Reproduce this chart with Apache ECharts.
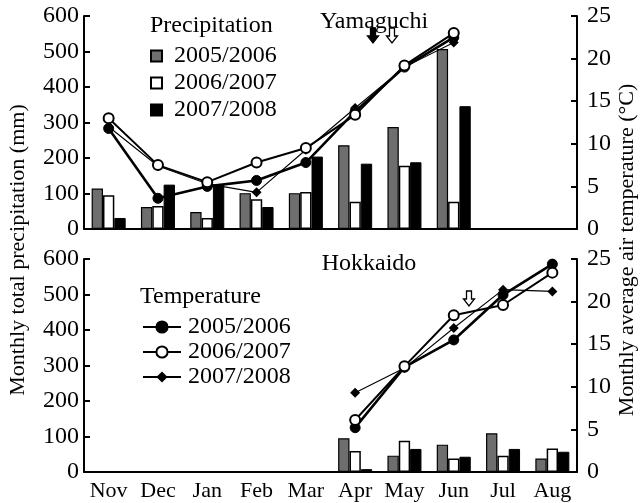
<!DOCTYPE html>
<html>
<head>
<meta charset="utf-8">
<script src="https://cdn.jsdelivr.net/npm/echarts@6/dist/echarts.min.js"></script>
<style>html,body{margin:0;padding:0;background:#fff}#c{width:640px;height:503px}</style>
</head>
<body>
<div id="c"></div>
<script>
var months = ['Nov','Dec','Jan','Feb','Mar','Apr','May','Jun','Jul','Aug'];
var seasons = ['2005/2006','2006/2007','2007/2008'];
var precipTicks = [0,100,200,300,400,500,600];
var tempTicks = [0,5,10,15,20,25];

// Yamaguchi
var yamaPrecip0506 = [114, 62, 48, 101, 101, 236, 287, 507, null, null];
var yamaPrecip0607 = [95, 65, 31, 84, 104, 77, 178, 77, null, null];
var yamaPrecip0708 = [31, 125, 125, 62, 204, 184, 188, 346, null, null];
var yamaTemp0506 = [11.8, 3.6, 5.0, 5.7, 7.8, 13.8, 19.0, 22.5, null, null];
var yamaTemp0607 = [13.0, 7.5, 5.5, 7.8, 9.5, 13.4, 19.2, 23.0, null, null];
var yamaTemp0708 = [12.0, 7.4, 5.3, 4.3, 9.3, 14.2, 19.0, 21.9, null, null];

// Hokkaido
var hokPrecip0506 = [null, null, null, null, null, 95, 46, 77, 109, 38];
var hokPrecip0607 = [null, null, null, null, null, 59, 88, 38, 46, 66];
var hokPrecip0708 = [null, null, null, null, null, 8, 65, 43, 65, 57];
var hokTemp0506 = [null, null, null, null, null, 5.2, 12.3, 15.5, 20.8, 24.4];
var hokTemp0607 = [null, null, null, null, null, 6.1, 12.4, 18.4, 19.6, 23.4];
var hokTemp0708 = [null, null, null, null, null, 9.3, 12.2, 16.9, 21.4, 21.2];

var FONT = "'Liberation Serif','Times New Roman',serif";
var FS = 22;   // words
var FN = 24;   // numbers / legend

var chart = echarts.init(document.getElementById('c'), null, {renderer:'canvas'});

function xAx(gi, showLabel){
  return {
    type:'category', gridIndex:gi, data:months, boundaryGap:true,
    axisLine:{lineStyle:{color:'#000', width:2}},
    axisTick:{inside:true, length:6, lineStyle:{color:'#000', width:2}},
    axisLabel:{show:showLabel, color:'#000', fontFamily:FONT, fontSize:FS, margin:8, interval:0},
    splitLine:{show:false}
  };
}
function yLeft(gi){
  return {
    type:'value', gridIndex:gi, min:precipTicks[0], max:precipTicks[precipTicks.length-1], interval:100, position:'left',
    axisLine:{show:true, lineStyle:{color:'#000', width:2}},
    axisTick:{show:true, inside:true, length:6, lineStyle:{color:'#000', width:2}},
    axisLabel:{color:'#000', fontFamily:FONT, fontSize:FN, margin:5},
    splitLine:{show:false}
  };
}
function yRight(gi){
  return {
    type:'value', gridIndex:gi, min:tempTicks[0], max:tempTicks[tempTicks.length-1], interval:5, position:'right',
    axisLine:{show:true, lineStyle:{color:'#000', width:2}},
    axisTick:{show:true, inside:true, length:6, lineStyle:{color:'#000', width:2}},
    axisLabel:{color:'#000', fontFamily:FONT, fontSize:FN, margin:10},
    splitLine:{show:false}
  };
}

var barStyles = [
  {color:'#6e6e6e', borderColor:'#000', borderWidth:1.2},
  {color:'#ffffff', borderColor:'#000', borderWidth:1.5},
  {color:'#000000', borderColor:'#000', borderWidth:1}
];
function bar(name, data, gi, k){
  return {
    type:'bar', name:'Precipitation ' + name, data:data,
    xAxisIndex:gi, yAxisIndex:gi*2,
    barGap:'0%', barCategoryGap:'31%',
    itemStyle:barStyles[k], silent:true, z:2
  };
}
var lineDefs = [
  {symbol:'circle', symbolSize:10, lw:2.6, item:{color:'#000', borderColor:'#000', borderWidth:1}},
  {symbol:'circle', symbolSize:10, lw:2, item:{color:'#fff', borderColor:'#000', borderWidth:2}},
  {symbol:'diamond', symbolSize:10, lw:1.1, item:{color:'#000', borderColor:'#000', borderWidth:0}}
];
function line(name, data, gi, k, z){
  var d = lineDefs[k];
  return {
    type:'line', name:'Temperature ' + name, data:data,
    xAxisIndex:gi, yAxisIndex:gi*2+1,
    symbol:d.symbol, symbolSize:d.symbolSize, showSymbol:true, connectNulls:false,
    lineStyle:{color:'#000', width:d.lw},
    itemStyle:d.item, silent:true, z:z, animation:false
  };
}

function arrow(cx, cy, fill){
  var pts = [[-2.5,0],[2.5,0],[2.5,8],[5.5,8],[0,15],[-5.5,8],[-2.5,8]].map(function(p){return [cx+p[0], cy+p[1]];});
  return {type:'polygon', shape:{points:pts}, style:{fill:fill, stroke:'#000', lineWidth:1.3}, z:10};
}

var option = {
  animation:false,
  backgroundColor:'#fff',
  textStyle:{fontFamily:FONT},
  grid:[
    {left:84, top:16, width:493, height:213},
    {left:84, top:259, width:493, height:213}
  ],
  xAxis:[xAx(0,false), xAx(1,true)],
  yAxis:[yLeft(0), yRight(0), yLeft(1), yRight(1)],
  legend:[
    {
      orient:'vertical', left:150, top:44, padding:0, itemWidth:11, itemHeight:11, itemGap:3,
      icon:'rect', selectedMode:false,
      data:seasons.map(function(s){return 'Precipitation ' + s;}),
      formatter:function(n){return n.replace('Precipitation ','');},
      textStyle:{color:'#000', fontFamily:FONT, fontSize:FN, padding:[0,0,0,7]}
    },
    {
      orient:'vertical', left:142, top:315, padding:0, itemWidth:38, itemHeight:14, itemGap:1,
      selectedMode:false,
      data:seasons.map(function(s){return 'Temperature ' + s;}),
      formatter:function(n){return n.replace('Temperature ','');},
      textStyle:{color:'#000', fontFamily:FONT, fontSize:FN, padding:[0,0,0,2]}
    }
  ],
  series:[
    bar(seasons[0], yamaPrecip0506, 0, 0),
    bar(seasons[1], yamaPrecip0607, 0, 1),
    bar(seasons[2], yamaPrecip0708, 0, 2),
    bar(seasons[0], hokPrecip0506, 1, 0),
    bar(seasons[1], hokPrecip0607, 1, 1),
    bar(seasons[2], hokPrecip0708, 1, 2),
    line(seasons[0], yamaTemp0506, 0, 0, 4),
    line(seasons[1], yamaTemp0607, 0, 1, 6),
    line(seasons[2], yamaTemp0708, 0, 2, 5),
    line(seasons[0], hokTemp0506, 1, 0, 4),
    line(seasons[1], hokTemp0607, 1, 1, 6),
    line(seasons[2], hokTemp0708, 1, 2, 5)
  ],
  graphic:[
    {type:'text', x:150, y:14, style:{text:'Precipitation', fill:'#000', font:FN+'px '+FONT}},
    {type:'text', x:140, y:285, style:{text:'Temperature', fill:'#000', font:FN+'px '+FONT}},
    {type:'text', x:374, y:22, style:{text:'Yamaguchi', fill:'#000', font:FN+'px '+FONT, align:'center', verticalAlign:'middle'}},
    {type:'text', x:369, y:264, style:{text:'Hokkaido', fill:'#000', font:FN+'px '+FONT, align:'center', verticalAlign:'middle'}},
    {type:'text', x:18, y:250, rotation:Math.PI/2, style:{text:'Monthly total precipitation (mm)', fill:'#000', font:FS+'px '+FONT, align:'center', verticalAlign:'middle'}},
    {type:'text', x:627, y:250, rotation:Math.PI/2, style:{text:'Monthly average air temperature (\u00B0C)', fill:'#000', font:FS+'px '+FONT, align:'center', verticalAlign:'middle'}},
    arrow(373, 28, '#000'),
    arrow(392, 28, '#fff'),
    arrow(469, 291, '#fff')
  ]
};
chart.setOption(option);
</script>
</body>
</html>
